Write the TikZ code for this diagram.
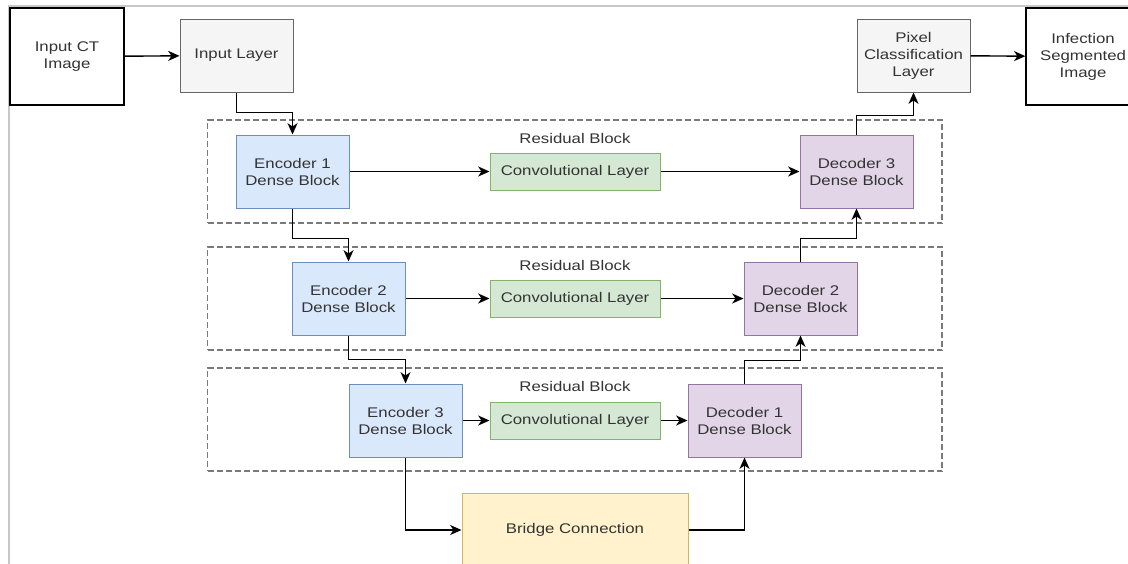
\documentclass[tikz,border=0pt]{standalone}
\usepackage{fontspec}
\setmainfont{Liberation Sans}[FakeStretch=1.2]
\usetikzlibrary{arrows.meta,calc}
\definecolor{txt}{HTML}{333333}
\definecolor{grayfill}{HTML}{F5F5F5}
\definecolor{grayline}{HTML}{666666}
\definecolor{encfill}{HTML}{DAE8FC}
\definecolor{encline}{HTML}{6C8EBF}
\definecolor{decfill}{HTML}{E1D5E7}
\definecolor{decline}{HTML}{9673A6}
\definecolor{convfill}{HTML}{D5E8D4}
\definecolor{convline}{HTML}{82B366}
\definecolor{brfill}{HTML}{FFF2CC}
\definecolor{brline}{HTML}{D6B656}
\definecolor{dashline}{HTML}{7A7A7A}
\definecolor{frameline}{HTML}{C8C8C8}
\tikzset{
  base/.style={draw, align=center, text=txt, inner sep=0pt, line width=0.75pt},
  blk/.style={base, minimum width=113*0.75pt, minimum height=73*0.75pt},
  iobox/.style={base, draw=black, line width=0.9pt, minimum width=114*0.75pt, minimum height=97*0.75pt},
  graybox/.style={blk, fill=grayfill, draw=grayline},
  encbox/.style={blk, fill=encfill, draw=encline},
  decbox/.style={blk, fill=decfill, draw=decline},
  convbox/.style={base, fill=convfill, draw=convline, minimum width=170*0.75pt, minimum height=37*0.75pt},
  brbox/.style={base, fill=brfill, draw=brline, minimum width=226*0.75pt, minimum height=74*0.75pt},
  resbox/.style={draw=dashline, line width=1.1pt, dash pattern=on 4.5pt off 2.25pt, minimum width=734.5*0.75pt, minimum height=103*0.75pt, inner sep=0pt},
  lbl/.style={text=txt, inner sep=0pt},
  arr/.style={draw=black, line width=1.05pt, -{Stealth[length=8.5pt, width=7.5pt, inset=2.5pt]}},
}
\begin{document}
\begin{tikzpicture}[x=0.75pt, y=-0.75pt, font=\fontsize{10.5}{12.75}\selectfont]
\clip (0,0) rectangle (1128,564);
\fill[white] (0,0) rectangle (1128,564);
\draw[frameline, line width=1.5pt] (9,570) -- (9,5.5) -- (1130,5.5);

% residual blocks
\node[resbox] (rb1) at (574.75,171.5) {};
\node[resbox] (rb2) at (574.75,298.5) {};
\node[resbox] (rb3) at (574.75,419.5) {};
\node[lbl] (rl1) at (575,138) {Residual Block};
\node[lbl] (rl2) at (575,265) {Residual Block};
\node[lbl] (rl3) at (575,386) {Residual Block};

% top row
\node[iobox] (ct) at (67,56.5) {Input CT\\Image};
\node[graybox] (inl) at (236.5,55.5) {Input Layer};
\node[graybox] (pix) at (913.5,55.5) {Pixel\\Classification\\Layer};
\node[iobox] (out) at (1083,56.5) {Infection\\Segmented\\Image};

% encoders
\node[encbox] (enc1) at (292.5,171.5) {Encoder 1\\Dense Block};
\node[encbox] (enc2) at (348.5,298.5) {Encoder 2\\Dense Block};
\node[encbox] (enc3) at (405.5,420.5) {Encoder 3\\Dense Block};

% conv layers
\node[convbox] (cv1) at (575,171.5) {Convolutional Layer};
\node[convbox] (cv2) at (575,298.5) {Convolutional Layer};
\node[convbox] (cv3) at (575,420.5) {Convolutional Layer};

% decoders
\node[decbox] (dec3) at (856.5,171.5) {Decoder 3\\Dense Block};
\node[decbox] (dec2) at (800.5,298.5) {Decoder 2\\Dense Block};
\node[decbox] (dec1) at (744.5,420.5) {Decoder 1\\Dense Block};

% bridge
\node[brbox] (br) at (575,530) {Bridge Connection};

% connectors
\draw[arr] (ct) -- (inl);
\draw[arr] (pix) -- (out);
\draw[arr] (inl.south) -- ++(0,20) -| (enc1.north);
\draw[arr] (enc1.south) -- ++(0,30) -| (enc2.north);
\draw[arr] (enc2.south) -- ++(0,24) -| (enc3.north);
\draw[arr] (enc3.south) |- (br.west);
\draw[arr] (br.east) -| (dec1.south);
\draw[arr] (dec1.north) -- ++(0,-23) -| (dec2.south);
\draw[arr] (dec2.north) -- ++(0,-23) -| (dec3.south);
\draw[arr] (dec3.north) -- ++(0,-19) -| (pix.south);
\draw[arr] (enc1) -- (cv1);
\draw[arr] (cv1) -- (dec3);
\draw[arr] (enc2) -- (cv2);
\draw[arr] (cv2) -- (dec2);
\draw[arr] (enc3) -- (cv3);
\draw[arr] (cv3) -- (dec1);
\end{tikzpicture}
\end{document}
